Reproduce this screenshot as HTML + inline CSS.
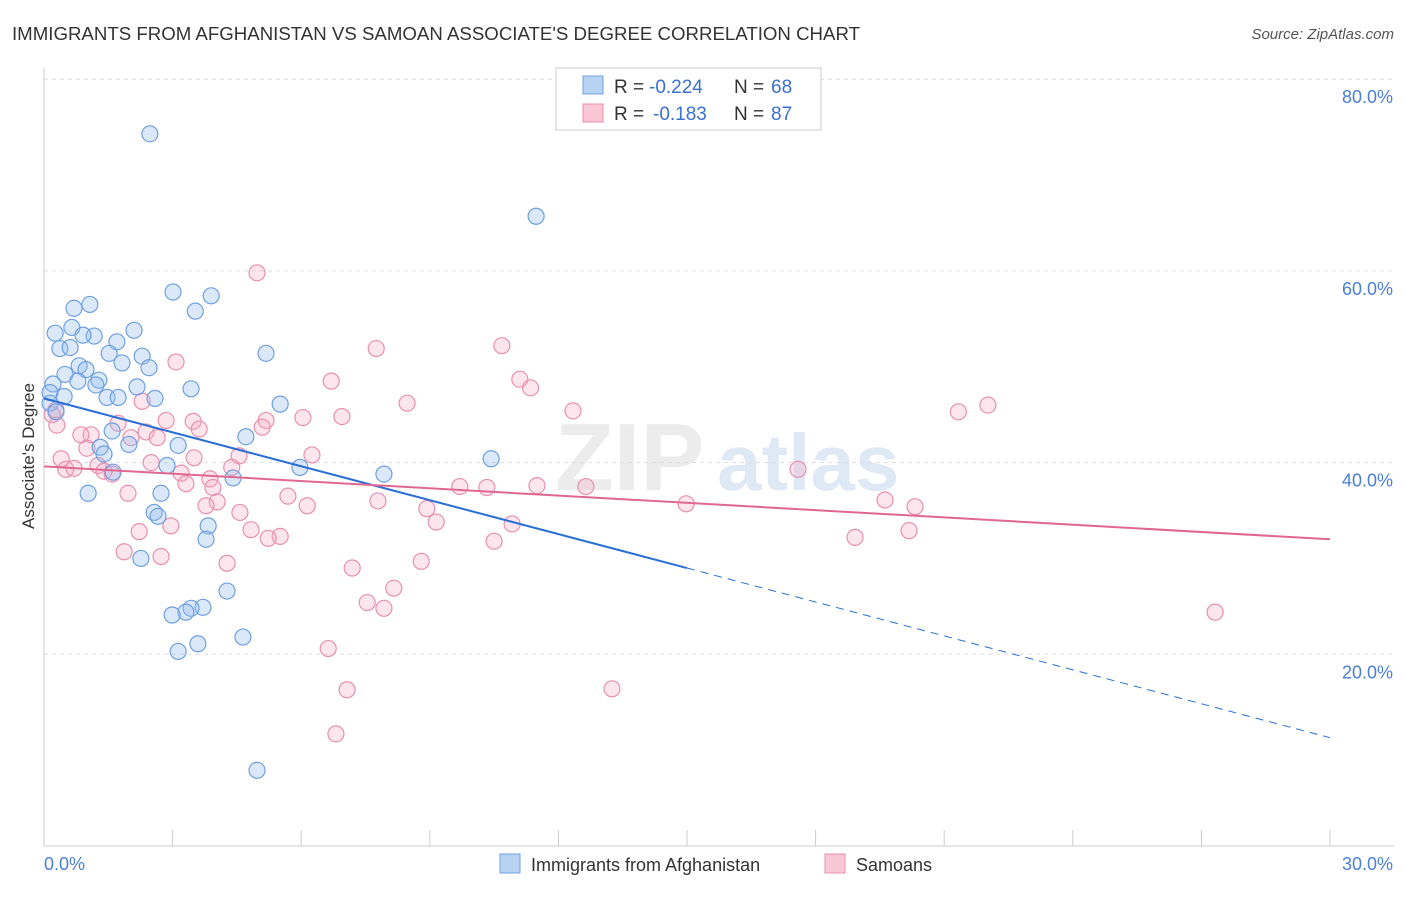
<!DOCTYPE html>
<html><head><meta charset="utf-8"><style>
body{margin:0;background:#fff;font-family:"Liberation Sans",sans-serif;}
svg text{font-family:"Liberation Sans",sans-serif;}
</style></head><body>
<svg id="chart" width="1406" height="892" xmlns="http://www.w3.org/2000/svg">
<text x="12" y="40" font-size="18" fill="#333" textLength="848" lengthAdjust="spacingAndGlyphs">IMMIGRANTS FROM AFGHANISTAN VS SAMOAN ASSOCIATE'S DEGREE CORRELATION CHART</text>
<text x="1394" y="39" font-size="15" fill="#555" font-style="italic" text-anchor="end">Source: ZipAtlas.com</text>
<g>
<text x="555" y="490" font-size="96" fill="#ececec" font-family="Liberation Serif" font-weight="bold">ZIP</text>
<text x="717" y="490" font-size="80" fill="#dfe8f5" font-weight="bold">atlas</text>
</g>
<g id="grid"></g><g id="axes"></g><g id="marks"></g>
<text transform="translate(34,456) rotate(-90)" font-size="17" fill="#333" text-anchor="middle">Associate's Degree</text>
<g>
<rect x="556" y="68" width="265" height="62" fill="#fff" stroke="#ccc"/>
<rect x="583" y="76" width="20" height="18" fill="#b8d2f4" stroke="#6fa0e0"/>
<rect x="583" y="104" width="20" height="18" fill="#f9c6d6" stroke="#e890b0"/>
<text x="614" y="93" font-size="19" fill="#333">R =</text>
<text x="649" y="93" font-size="19" fill="#3a70d0">-0.224</text>
<text x="734" y="93" font-size="19" fill="#333">N =</text>
<text x="771" y="93" font-size="19" fill="#3a70d0">68</text>
<text x="614" y="120" font-size="19" fill="#333">R =</text>
<text x="653" y="120" font-size="19" fill="#3a70d0">-0.183</text>
<text x="734" y="120" font-size="19" fill="#333">N =</text>
<text x="771" y="120" font-size="19" fill="#3a70d0">87</text>
</g>
<g>
<rect x="500" y="854" width="20" height="19" fill="#b8d2f4" stroke="#6fa0e0"/>
<text x="531" y="871" font-size="18" fill="#333">Immigrants from Afghanistan</text>
<rect x="825" y="854" width="20" height="19" fill="#f9c6d6" stroke="#e890b0"/>
<text x="856" y="871" font-size="18" fill="#333">Samoans</text>
</g>
</svg>
<script>
const blueX=[2.47,11.48,3.01,3.90,3.53,1.07,0.70,0.65,0.26,1.17,0.91,2.10,0.37,0.61,1.70,1.52,2.29,5.18,1.82,2.45,0.82,0.98,0.49,1.28,0.79,1.21,0.21,2.17,3.43,0.14,0.47,1.47,1.73,2.59,0.14,5.51,0.28,4.71,1.59,3.13,1.31,1.40,1.98,10.43,5.97,2.87,1.61,7.93,4.41,1.03,2.73,2.57,2.66,3.83,3.78,2.26,4.27,3.71,3.43,3.31,2.99,4.64,3.59,3.13,4.97];
const blueY=[74.3,65.7,57.8,57.4,55.8,56.5,56.1,54.1,53.5,53.2,53.3,53.8,51.9,52.0,52.6,51.4,51.1,51.4,50.4,49.9,50.1,49.7,49.2,48.6,48.5,48.1,48.2,47.9,47.7,47.3,46.9,46.8,46.8,46.7,46.2,46.1,45.3,42.7,43.3,41.8,41.6,40.9,41.9,40.4,39.5,39.7,39.0,38.8,38.4,36.8,36.8,34.8,34.4,33.4,32.0,30.0,26.6,24.9,24.8,24.4,24.1,21.8,21.1,20.3,7.9];
const pinkX=[4.97,7.75,10.68,3.08,6.70,11.10,11.35,8.47,12.34,21.33,22.02,0.28,0.19,0.30,2.29,1.73,2.85,3.48,3.62,5.18,5.09,6.04,6.95,1.10,0.86,2.38,2.64,2.03,1.00,0.40,6.25,4.55,3.50,1.26,0.51,0.70,2.50,4.38,3.20,17.59,1.40,1.59,3.87,3.31,3.94,9.70,10.33,11.50,12.64,1.96,5.69,4.04,7.79,19.62,3.78,6.14,8.93,14.98,20.32,4.57,9.15,2.96,10.92,4.83,5.51,5.23,2.22,10.50,18.92,20.18,1.87,2.73,8.80,4.27,7.19,8.16,7.54,7.93,27.32,6.63,7.07,13.25,6.81];
const pinkY=[59.8,51.9,52.2,50.5,48.5,48.7,47.8,46.2,45.4,45.3,46.0,45.5,45.0,43.9,46.4,44.1,44.4,44.3,43.5,44.4,43.7,44.7,44.8,42.9,42.9,43.2,42.6,42.6,41.5,40.4,40.8,40.7,40.5,39.7,39.3,39.4,40.0,39.5,38.9,39.3,39.1,38.8,38.3,37.8,37.4,37.5,37.4,37.6,37.5,36.8,36.5,35.9,36.0,36.1,35.5,35.5,35.2,35.7,35.4,34.8,33.8,33.4,33.6,33.0,32.3,32.1,32.8,31.8,32.2,32.9,30.7,30.2,29.7,29.5,29.0,26.9,25.4,24.8,24.4,20.6,16.3,16.4,11.7];
const blueTrend=[46.7,11.3];
const pinkTrend=[39.6,32.0];
const yTicks=[20,40,60,80];
const yTickLabels=["20.0%","40.0%","60.0%","80.0%"];
const xTickLabels=["0.0%","30.0%"];

const NS="http://www.w3.org/2000/svg";
const sx=v=>44+v/30*1286;
const sy=v=>846-v/20*191.7;
function mk(t,a,p){const e=document.createElementNS(NS,t);for(const k in a)e.setAttribute(k,a[k]);p.appendChild(e);return e;}
const grid=document.getElementById('grid'),axes=document.getElementById('axes'),marks=document.getElementById('marks');
yTicks.forEach((t,i)=>{
 const l=mk('line',{x1:44,x2:1394,y1:sy(t),y2:sy(t),stroke:'#ddd','stroke-dasharray':'4,4'},grid);
 
 
 const tx=mk('text',{x:1393,y:sy(t)+24,'font-size':18,fill:'#4a7fd6','text-anchor':'end'},axes);
 tx.textContent=yTickLabels[i];
 
 
});
const ya=mk('line',{x1:44,x2:44,y1:68,y2:846,stroke:'#ccc'},axes);


const xa=mk('line',{x1:44,x2:1394,y1:846,y2:846,stroke:'#ccc'},axes);


for(let i=0;i<=10;i++){
 const t=mk('line',{x1:sx(i*3),x2:sx(i*3),y1:830,y2:846,stroke:'#ccc'},axes);
 
 
}
const x0=mk('text',{x:44,y:870,'font-size':18,fill:'#4a7fd6'},axes);x0.textContent=xTickLabels[0];


const x1=mk('text',{x:1393,y:870,'font-size':18,fill:'#4a7fd6','text-anchor':'end'},axes);x1.textContent=xTickLabels[1];


function pts(X,Y,fill,stroke,name){X.forEach((x,i)=>{const c=mk('circle',{cx:sx(x),cy:sy(Y[i]),r:8,fill:fill,stroke:stroke,'stroke-width':1.2},marks);
 
 });}
pts(pinkX,pinkY,'rgba(245,170,195,0.3)','#e890b0','samoan-point');
pts(blueX,blueY,'rgba(150,190,240,0.35)','#6fa0e0','afghanistan-point');
const ty=(tr,x)=>tr[0]+(tr[1]-tr[0])*x/30;
const bl=mk('line',{x1:sx(0),y1:sy(ty(blueTrend,0)),x2:sx(15),y2:sy(ty(blueTrend,15)),stroke:'#2a6fd6','stroke-width':2},marks);


const bd=mk('line',{x1:sx(15),y1:sy(ty(blueTrend,15)),x2:sx(30),y2:sy(ty(blueTrend,30)),stroke:'#2a6fd6','stroke-width':1,'stroke-dasharray':'8,6'},marks);


const pl=mk('line',{x1:sx(0),y1:sy(ty(pinkTrend,0)),x2:sx(30),y2:sy(ty(pinkTrend,30)),stroke:'#e06890','stroke-width':2},marks);


</script>
</body></html>
